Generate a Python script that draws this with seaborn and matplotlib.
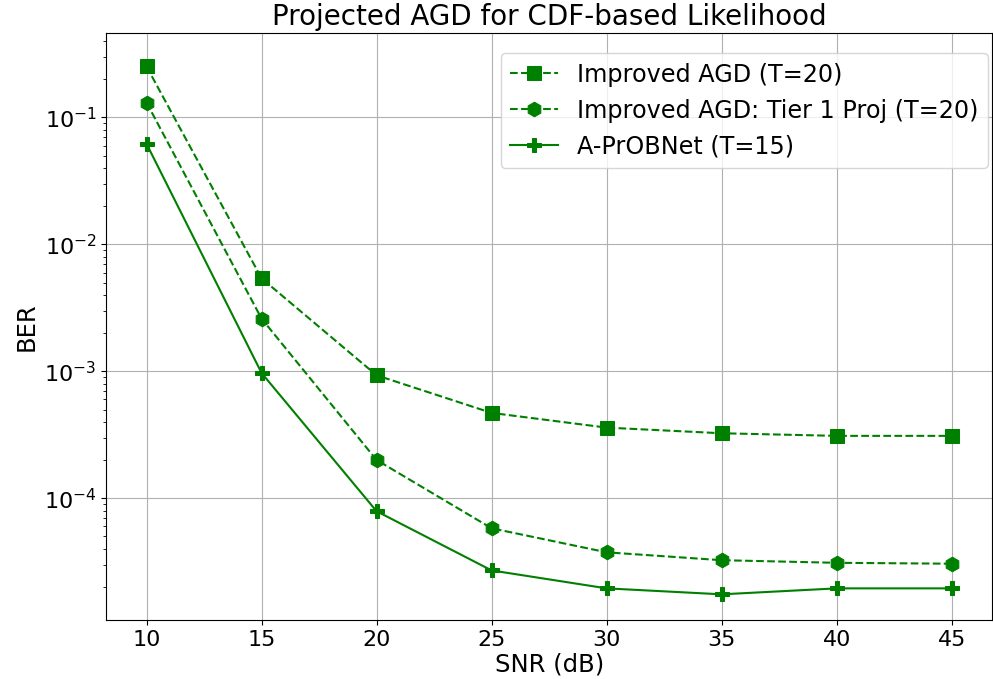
import numpy as np
import pandas as pd
import seaborn as sns
import matplotlib.pyplot as plt

snr = [10, 15, 20, 25, 30, 35, 40, 45]
ber_agd = [0.252, 5.4e-3, 9.3e-4, 4.7e-4, 3.6e-4, 3.25e-4, 3.1e-4, 3.1e-4]
ber_tier1 = [0.131, 2.6e-3, 2.0e-4, 5.8e-5, 3.75e-5, 3.25e-5, 3.1e-5, 3.05e-5]
ber_probnet = [0.062, 9.7e-4, 7.9e-5, 2.7e-5, 1.95e-5, 1.75e-5, 1.95e-5, 1.95e-5]

labels = ["Improved AGD (T=20)", "Improved AGD: Tier 1 Proj (T=20)", "A-PrOBNet (T=15)"]
series = [ber_agd, ber_tier1, ber_probnet]
markers = ["s", "h", "P"]
dashes = ["--", "--", "-"]

fig = plt.figure(figsize=(9.93, 6.79), dpi=100)
ax = fig.add_axes([0.107, 0.087, 0.892, 0.864])

for lab, vals, mk, ls in zip(labels, series, markers, dashes):
    df = pd.DataFrame({"SNR": snr, "BER": vals})
    sns.lineplot(data=df, x="SNR", y="BER", ax=ax, color="green", marker=mk,
                 markersize=10.5, linestyle=ls, linewidth=1.5, label=lab,
                 markeredgecolor="green")

ax.set_yscale("log")
ax.set_ylim(1.1e-5, 0.46)
ax.set_xticks(snr)
ax.grid(True, which="major", color="#b0b0b0", linewidth=0.8)
ax.tick_params(labelsize=16)
ax.set_xlabel("SNR (dB)", fontsize=17.5, labelpad=2)
ax.set_ylabel("BER", fontsize=17.5)
ax.set_title("Projected AGD for CDF-based Likelihood", fontsize=20)
ax.legend(fontsize=17.2, loc="upper right", bbox_to_anchor=(0.9955, 0.966),
          borderaxespad=0)

fig.savefig("out.png", dpi=100)
